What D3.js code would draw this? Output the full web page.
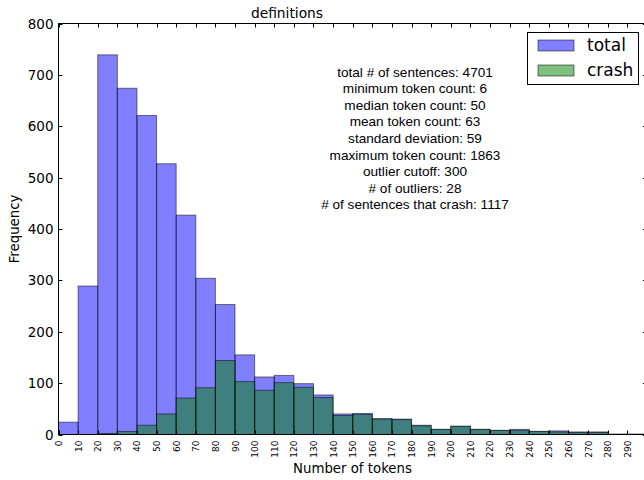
<!DOCTYPE html>
<html>
<head>
<meta charset="utf-8">
<script src="https://cdn.jsdelivr.net/npm/d3@7"></script>
<style>
  body { margin: 0; background: #fff; }
  svg { display: block; font-family: "DejaVu Sans", sans-serif; }
</style>
</head>
<body>
<div id="chart"></div>
<script>
// bin edges every 10 tokens, 0..300
const binStarts = d3.range(0, 300, 10);
const totalCounts = [24, 289, 739, 674, 621, 527, 427, 304, 253, 155, 112, 115, 99, 77, 40,
  41, 31, 30, 18, 10, 16, 10, 8, 10, 6, 7, 5, 5, 1, 1];
const crashCounts = [0, 0, 2, 6, 18, 40, 71, 91, 144, 103, 86, 101, 92, 72, 37,
  39, 30, 29, 17, 10, 16, 10, 8, 8, 6, 5, 4, 4, 0, 0];
const xTicks = d3.range(0, 310, 10);
const yTicks = d3.range(0, 900, 100);
const statLines = [
  "total # of sentences: 4701",
  "minimum token count: 6",
  "median token count: 50",
  "mean token count: 63",
  "standard deviation: 59",
  "maximum token count: 1863",
  "outlier cutoff: 300",
  "# of outliers: 28",
  "# of sentences that crash: 1117",
];
const series = [
  { name: "total", values: totalCounts, color: "#0000ff" },
  { name: "crash", values: crashCounts, color: "#008000" },
];

class Hist {
  constructor(id, width, height) {
    this.width = width;
    this.height = height;
    this.svg = d3.select(`#${id}`)
      .append("svg")
      .attr("width", width)
      .attr("height", height);
    this.box = { left: 58.5, right: 646.9, top: 23.5, bottom: 434.5 };
    this.x = d3.scaleLinear().domain([0, 300]).range([this.box.left, this.box.right]);
    this.y = d3.scaleLinear().domain([0, 800]).range([this.box.bottom, this.box.top]);
    this.drawBars();
    this.drawAxes();
    this.drawText();
    this.drawLegend();
  }

  drawBars() {
    series.forEach((s) => {
      this.svg.append("g")
        .selectAll("rect")
        .data(s.values.map((v, i) => ({ x0: binStarts[i], v })).filter((d) => d.v > 0))
        .join("rect")
        .attr("x", (d) => this.x(d.x0))
        .attr("width", (d) => this.x(d.x0 + 10) - this.x(d.x0))
        .attr("y", (d) => this.y(d.v))
        .attr("height", (d) => this.y(0) - this.y(d.v))
        .attr("fill", s.color)
        .attr("fill-opacity", 0.5)
        .attr("stroke", "#000")
        .attr("stroke-opacity", 0.5)
        .attr("stroke-width", 1);
    });
  }

  drawAxes() {
    const b = this.box;
    const tl = 4;
    const g = this.svg.append("g").attr("stroke", "#000").attr("stroke-width", 1);

    // ticks point inward on all four sides
    g.selectAll(".xt")
      .data(xTicks)
      .join("path")
      .attr("d", (d) => {
        const px = Math.round(this.x(d)) + 0.5;
        return `M${px},${b.bottom}v${-tl}M${px},${b.top}v${tl}`;
      });
    g.selectAll(".yt")
      .data(yTicks)
      .join("path")
      .attr("d", (d) => {
        const py = Math.round(this.y(d)) + 0.5;
        return `M${b.left},${py}h${tl}M${b.right},${py}h${-tl}`;
      });

    g.append("rect")
      .attr("x", b.left)
      .attr("y", b.top)
      .attr("width", b.right - b.left)
      .attr("height", b.bottom - b.top)
      .attr("fill", "none");

    this.svg.append("g")
      .selectAll("text")
      .data(xTicks.filter((d) => d < 300))
      .join("text")
      .attr("transform", (d) => `translate(${this.x(d) + 3.5},${b.bottom + 6}) rotate(-90)`)
      .attr("text-anchor", "end")
      .attr("font-size", 9)
      .text((d) => d);

    this.svg.append("g")
      .selectAll("text")
      .data(yTicks)
      .join("text")
      .attr("x", b.left - 5)
      .attr("y", (d) => this.y(d) + 5)
      .attr("text-anchor", "end")
      .attr("font-size", 13.5)
      .text((d) => d);
  }

  drawText() {
    this.svg.append("text")
      .attr("x", 287)
      .attr("y", 18)
      .attr("text-anchor", "middle")
      .attr("font-size", 13.8)
      .text("definitions");

    this.svg.append("text")
      .attr("x", 352.5)
      .attr("y", 473)
      .attr("text-anchor", "middle")
      .attr("font-size", 13.3)
      .text("Number of tokens");

    this.svg.append("text")
      .attr("transform", `translate(18.5,${(this.box.top + this.box.bottom) / 2}) rotate(-90)`)
      .attr("text-anchor", "middle")
      .attr("font-size", 13.3)
      .text("Frequency");

    this.svg.append("g")
      .selectAll("text")
      .data(statLines)
      .join("text")
      .attr("x", 415)
      .attr("y", (d, i) => 76.5 + i * 16.6)
      .attr("text-anchor", "middle")
      .attr("font-family", "'Liberation Sans', Arial, sans-serif")
      .attr("font-size", 13.6)
      .text((d) => d);
  }

  drawLegend() {
    const g = this.svg.append("g").attr("transform", "translate(527.5,32.5)");
    g.append("rect")
      .attr("width", 111)
      .attr("height", 52)
      .attr("fill", "#fff")
      .attr("stroke", "#000");
    const row = g.selectAll(".item")
      .data(series)
      .join("g")
      .attr("transform", (d, i) => `translate(10.5,${7.5 + i * 25})`);
    row.append("rect")
      .attr("width", 36)
      .attr("height", 11)
      .attr("fill", (d) => d.color)
      .attr("fill-opacity", 0.5)
      .attr("stroke", "#000")
      .attr("stroke-opacity", 0.5);
    row.append("text")
      .attr("x", 49)
      .attr("y", 11)
      .attr("font-size", 17)
      .text((d) => d.name);
  }
}

new Hist("chart", 644, 480);
</script>
</body>
</html>
